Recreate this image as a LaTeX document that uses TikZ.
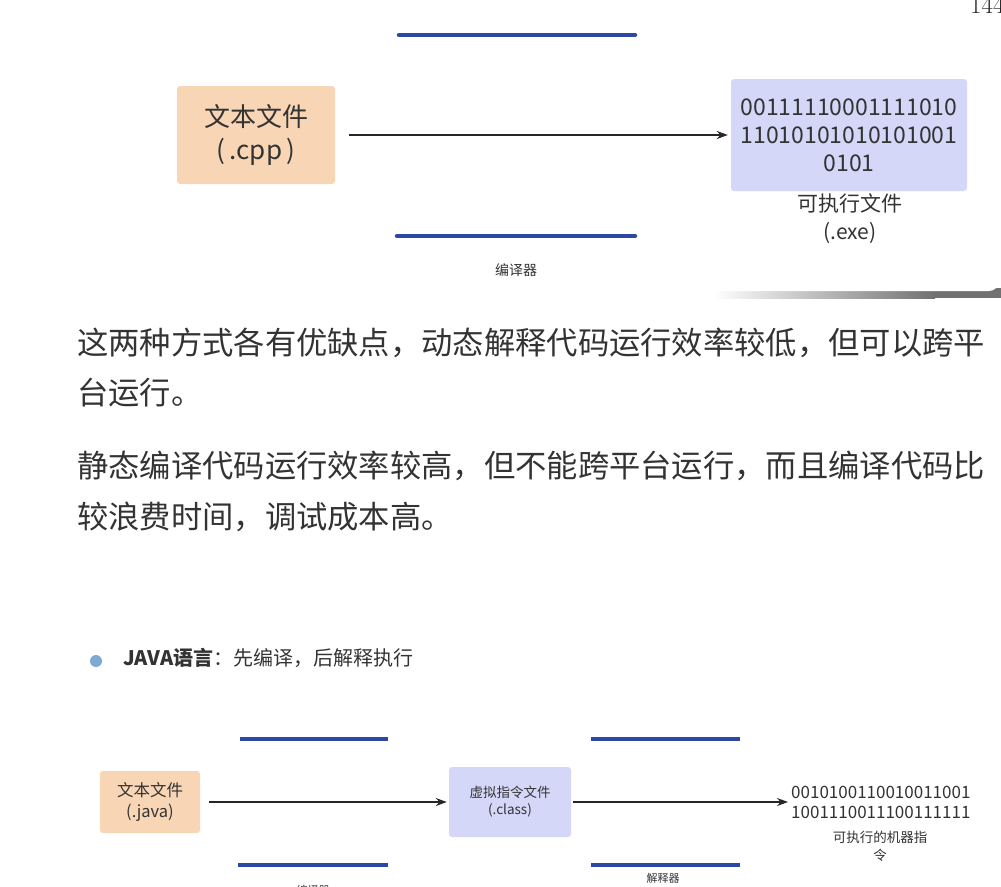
\documentclass[tikz,border=0pt]{standalone}
\usepackage{fontspec}
\usepackage{tikz}
\usetikzlibrary{arrows.meta,positioning}
\newfontfamily\cjk{Noto Sans CJK SC}
\definecolor{txtgray}{HTML}{333333}
\definecolor{filepeach}{HTML}{F8D5B5}
\definecolor{filelav}{HTML}{D4D7F8}
\definecolor{barblue}{HTML}{2D48A4}
\definecolor{dotblue}{HTML}{7DA9D3}
\definecolor{shadowgray}{HTML}{717171}

\tikzset{
  filebox/.style={rounded corners=3pt,inner sep=0pt,align=center,text=txtgray},
  compbar/.style={draw=barblue,line width=4.5pt,line cap=round},
  smallbar/.style={draw=barblue,line width=3.5pt},
  flow/.style={-{Stealth[length=11pt,width=8pt]},line width=1.5pt,draw=black!85},
  paraline/.style={anchor=west,inner sep=0pt,text=txtgray,font=\cjk\fontsize{31.3}{31.3}\selectfont},
}

\begin{document}
\begin{tikzpicture}[x=1pt,y=-1pt]
  \useasboundingbox (0,0) rectangle (1001,886);
  \clip (0,0) rectangle (1001,886);

  % card with its shadow
  \shade[left color=white,right color=shadowgray] (713,288) rectangle (935,298);
  \fill[shadowgray] (934,288) rectangle (1001,298);
  \fill[white,rounded corners=10pt] (600,150) rectangle (999,291);

  % page number
  \node[anchor=base west,inner sep=0pt,font=\fontsize{25}{25}\selectfont,text=black!85]
    (pageno) at (970,13) {144};

  % compiled: cpp -> exe
  \draw[compbar] (399,35) -- (635,35);
  \draw[compbar] (397,236) -- (635,236);
  \node[filebox,fill=filepeach,minimum width=158pt,minimum height=98pt,
    font=\cjk\fontsize{26}{33}\selectfont] (cppfile) at (256,135)
    {文本文件\\(\,.cpp\,)};
  \node[filebox,fill=filelav,minimum width=236pt,minimum height=112pt,
    font=\cjk\fontsize{23}{28}\selectfont] (exefile) at (849,135)
    {00111110001111010\\11010101010101001\\0101};
  \node[inner sep=0pt,align=center,text=txtgray,font=\cjk\fontsize{21}{28}\selectfont]
    (execap) at (850,219) {可执行文件\\(.exe)};
  \node[inner sep=0pt,text=txtgray,font=\cjk\fontsize{14}{14}\selectfont]
    (cclabel) at (516,270) {编译器};
  \draw[flow,shorten <=14pt,shorten >=3pt] (cppfile) -- (exefile);

  % paragraphs
  \node[paraline] (para1) at (77,343) {这两种方式各有优缺点，动态解释代码运行效率较低，但可以跨平};
  \node[paraline] (para2) at (77,393) {台运行。};
  \node[paraline] (para3) at (77,466) {静态编译代码运行效率较高，但不能跨平台运行，而且编译代码比};
  \node[paraline] (para4) at (77,517) {较浪费时间，调试成本高。};

  % bullet
  \fill[dotblue] (96,661) circle (6pt);
  \node[anchor=west,inner sep=0pt,text=txtgray,font=\cjk\fontsize{20}{20}\selectfont]
    (javahead) at (123,658) {\textbf{JAVA语言}：先编译，后解释执行};

  % java: compile, then interpret
  \draw[smallbar] (240,739) -- (388,739);
  \draw[smallbar] (238,865) -- (388,865);
  \draw[smallbar] (591,739) -- (740,739);
  \draw[smallbar] (591,865) -- (740,865);
  \node[filebox,fill=filepeach,minimum width=100pt,minimum height=62pt,
    font=\cjk\fontsize{16.5}{21}\selectfont] (javafile) at (150,802)
    {文本文件\\(.java)};
  \node[filebox,fill=filelav,minimum width=122pt,minimum height=70pt,
    font=\cjk\fontsize{13.5}{17}\selectfont] (classfile) at (510,802)
    {虚拟指令文件\\(.class)};
  \node[anchor=west,inner sep=0pt,align=center,text=txtgray,
    font=\cjk\fontsize{17}{20}\selectfont] (machcode) at (791,802)
    {0010100110010011001\\1001110011100111111};
  \node[inner sep=0pt,align=center,text=txtgray,font=\cjk\fontsize{13.5}{18}\selectfont]
    (machcap) at (880,846) {可执行的机器指\\令};
  \node[inner sep=0pt,text=txtgray,font=\cjk\fontsize{11}{11}\selectfont]
    (jclabel) at (313,890) {编译器};
  \node[inner sep=0pt,text=txtgray,font=\cjk\fontsize{11}{11}\selectfont]
    (jilabel) at (663,878) {解释器};
  \draw[flow,shorten <=9pt,shorten >=2pt] (javafile) -- (classfile);
  \draw[flow,shorten <=2pt,shorten >=3pt] (classfile) -- (machcode);
\end{tikzpicture}
\end{document}
